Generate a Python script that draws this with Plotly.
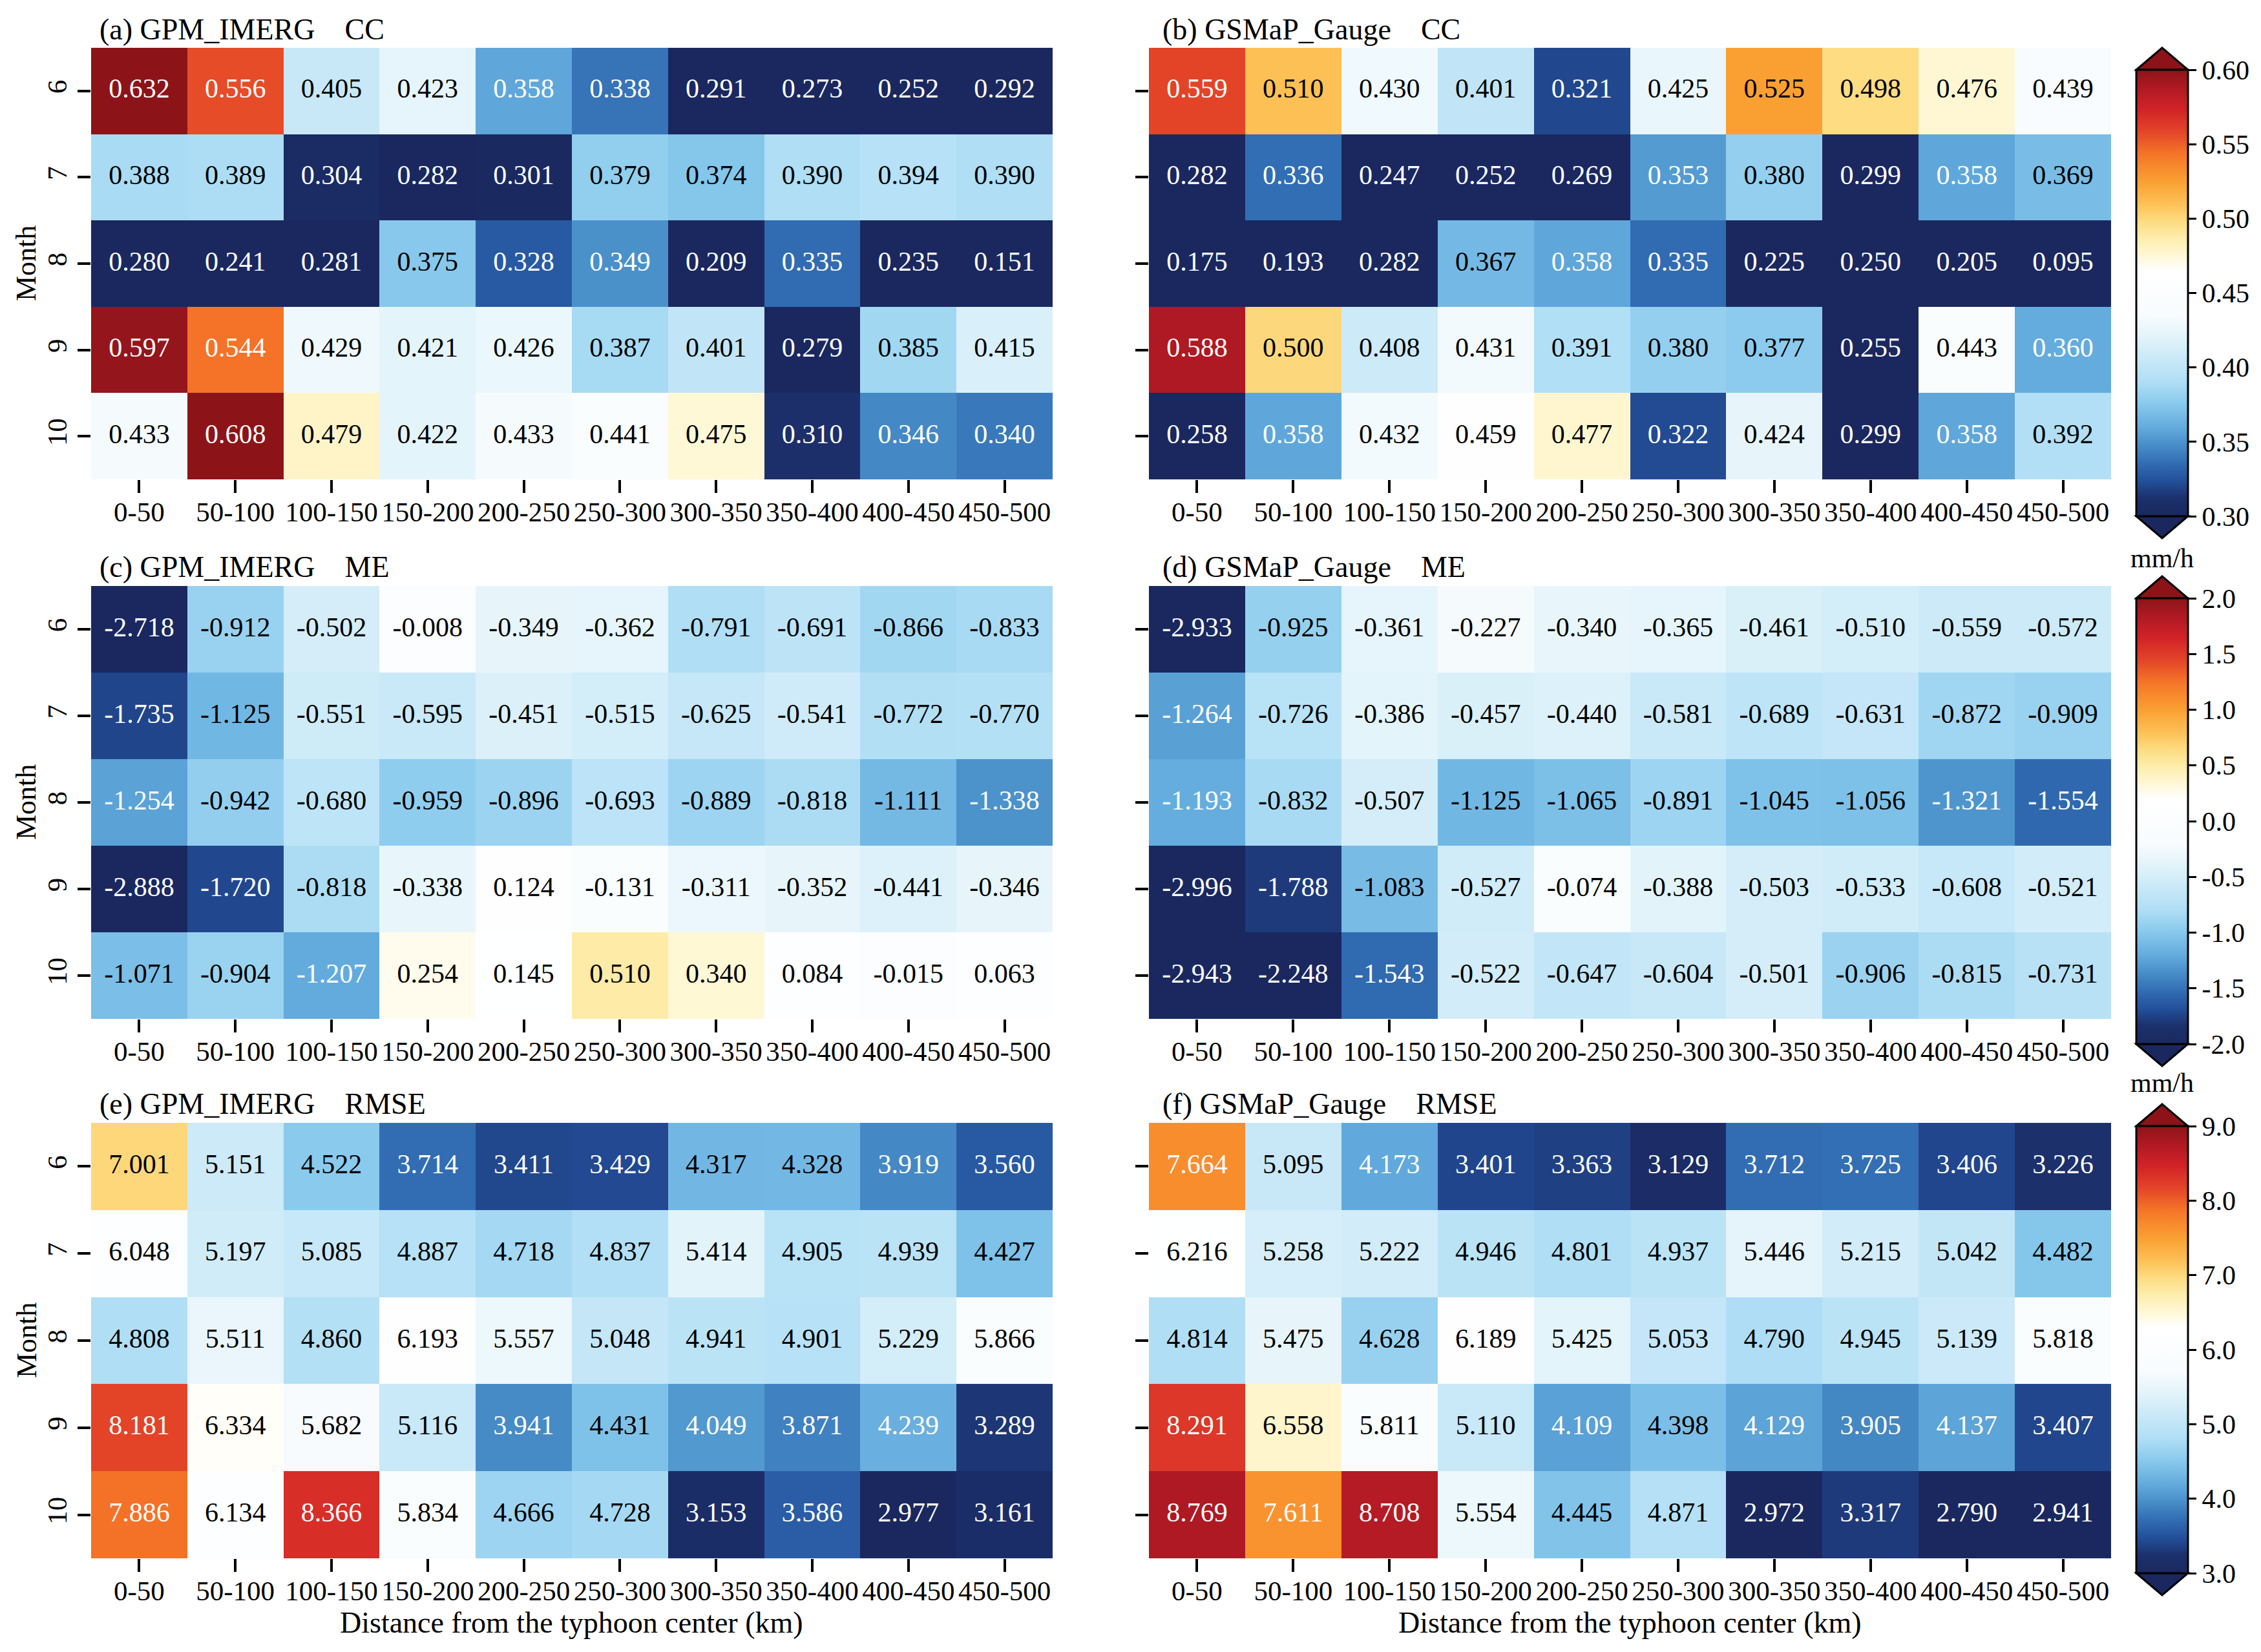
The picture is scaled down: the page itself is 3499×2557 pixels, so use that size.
import numpy as np
import plotly.graph_objects as go

W, H = 3499, 2557
OFF = 8  # default page body margin
FW, FH = W - 2 * OFF, H - 2 * OFF
FONT = "Times New Roman, Liberation Serif, serif"

dist_labels = ["0-50", "50-100", "100-150", "150-200", "200-250",
               "250-300", "300-350", "350-400", "400-450", "450-500"]
months = ["6", "7", "8", "9", "10"]

cc_imerg = [
    [0.632, 0.556, 0.405, 0.423, 0.358, 0.338, 0.291, 0.273, 0.252, 0.292],
    [0.388, 0.389, 0.304, 0.282, 0.301, 0.379, 0.374, 0.390, 0.394, 0.390],
    [0.280, 0.241, 0.281, 0.375, 0.328, 0.349, 0.209, 0.335, 0.235, 0.151],
    [0.597, 0.544, 0.429, 0.421, 0.426, 0.387, 0.401, 0.279, 0.385, 0.415],
    [0.433, 0.608, 0.479, 0.422, 0.433, 0.441, 0.475, 0.310, 0.346, 0.340],
]
cc_gsmap = [
    [0.559, 0.510, 0.430, 0.401, 0.321, 0.425, 0.525, 0.498, 0.476, 0.439],
    [0.282, 0.336, 0.247, 0.252, 0.269, 0.353, 0.380, 0.299, 0.358, 0.369],
    [0.175, 0.193, 0.282, 0.367, 0.358, 0.335, 0.225, 0.250, 0.205, 0.095],
    [0.588, 0.500, 0.408, 0.431, 0.391, 0.380, 0.377, 0.255, 0.443, 0.360],
    [0.258, 0.358, 0.432, 0.459, 0.477, 0.322, 0.424, 0.299, 0.358, 0.392],
]
me_imerg = [
    [-2.718, -0.912, -0.502, -0.008, -0.349, -0.362, -0.791, -0.691, -0.866, -0.833],
    [-1.735, -1.125, -0.551, -0.595, -0.451, -0.515, -0.625, -0.541, -0.772, -0.770],
    [-1.254, -0.942, -0.680, -0.959, -0.896, -0.693, -0.889, -0.818, -1.111, -1.338],
    [-2.888, -1.720, -0.818, -0.338, 0.124, -0.131, -0.311, -0.352, -0.441, -0.346],
    [-1.071, -0.904, -1.207, 0.254, 0.145, 0.510, 0.340, 0.084, -0.015, 0.063],
]
me_gsmap = [
    [-2.933, -0.925, -0.361, -0.227, -0.340, -0.365, -0.461, -0.510, -0.559, -0.572],
    [-1.264, -0.726, -0.386, -0.457, -0.440, -0.581, -0.689, -0.631, -0.872, -0.909],
    [-1.193, -0.832, -0.507, -1.125, -1.065, -0.891, -1.045, -1.056, -1.321, -1.554],
    [-2.996, -1.788, -1.083, -0.527, -0.074, -0.388, -0.503, -0.533, -0.608, -0.521],
    [-2.943, -2.248, -1.543, -0.522, -0.647, -0.604, -0.501, -0.906, -0.815, -0.731],
]
rmse_imerg = [
    [7.001, 5.151, 4.522, 3.714, 3.411, 3.429, 4.317, 4.328, 3.919, 3.560],
    [6.048, 5.197, 5.085, 4.887, 4.718, 4.837, 5.414, 4.905, 4.939, 4.427],
    [4.808, 5.511, 4.860, 6.193, 5.557, 5.048, 4.941, 4.901, 5.229, 5.866],
    [8.181, 6.334, 5.682, 5.116, 3.941, 4.431, 4.049, 3.871, 4.239, 3.289],
    [7.886, 6.134, 8.366, 5.834, 4.666, 4.728, 3.153, 3.586, 2.977, 3.161],
]
rmse_gsmap = [
    [7.664, 5.095, 4.173, 3.401, 3.363, 3.129, 3.712, 3.725, 3.406, 3.226],
    [6.216, 5.258, 5.222, 4.946, 4.801, 4.937, 5.446, 5.215, 5.042, 4.482],
    [4.814, 5.475, 4.628, 6.189, 5.425, 5.053, 4.790, 4.945, 5.139, 5.818],
    [8.291, 6.558, 5.811, 5.110, 4.109, 4.398, 4.129, 3.905, 4.137, 3.407],
    [8.769, 7.611, 8.708, 5.554, 4.445, 4.871, 2.972, 3.317, 2.790, 2.941],
]

SP = "\u00a0\u00a0\u00a0\u00a0"
titles = ["(a) GPM_IMERG" + SP + "CC", "(b) GSMaP_Gauge" + SP + "CC",
          "(c) GPM_IMERG" + SP + "ME", "(d) GSMaP_Gauge" + SP + "ME",
          "(e) GPM_IMERG" + SP + "RMSE", "(f) GSMaP_Gauge" + SP + "RMSE"]
cb_ticks_cc = [0.30, 0.35, 0.40, 0.45, 0.50, 0.55, 0.60]
cb_ticks_me = [-2.0, -1.5, -1.0, -0.5, 0.0, 0.5, 1.0, 1.5, 2.0]
cb_ticks_rmse = [3.0, 4.0, 5.0, 6.0, 7.0, 8.0, 9.0]

stops = [
    (0.00, (26, 40, 95)), (0.04, (28, 48, 108)), (0.08, (35, 80, 155)),
    (0.12, (50, 110, 180)), (0.16, (72, 142, 200)), (0.20, (100, 172, 222)),
    (0.25, (135, 200, 236)), (0.30, (175, 222, 245)), (0.35, (200, 232, 248)),
    (0.40, (225, 243, 250)), (0.45, (248, 252, 254)), (0.55, (255, 255, 255)),
    (0.58, (255, 249, 218)), (0.62, (254, 238, 175)), (0.66, (253, 220, 130)),
    (0.70, (253, 192, 85)), (0.75, (250, 160, 50)), (0.81, (245, 118, 40)),
    (0.86, (228, 70, 40)), (0.91, (210, 35, 40)), (0.96, (175, 25, 35)),
    (1.00, (140, 20, 25)),
]
cscale = [[p, "rgb(%d,%d,%d)" % c] for p, c in stops]
low_col = "rgb(%d,%d,%d)" % stops[0][1]
high_col = "rgb(%d,%d,%d)" % stops[-1][1]


def pxx(x):
    return (x - OFF) / FW


def pyy(y):
    return 1 - (y - OFF) / FH


x_doms = [(141, 1629), (1778, 3267)]
y_doms = [(74, 742), (907, 1577), (1738, 2412)]
title_y = [45, 877, 1708]
title_x = [152, 1797]

rows = [
    (cc_imerg, cc_gsmap, 0.30, 0.60, cb_ticks_cc, "%.2f", (108, 799)),
    (me_imerg, me_gsmap, -2.0, 2.0, cb_ticks_me, "%.1f", (926, 1616)),
    (rmse_imerg, rmse_gsmap, 3.0, 9.0, cb_ticks_rmse, "%.1f", (1743, 2435)),
]

fig = go.Figure()
layout = dict(width=FW, height=FH, margin=dict(l=0, r=0, t=0, b=0),
              paper_bgcolor="white", plot_bgcolor="white",
              font=dict(family=FONT, size=42, color="black"),
              showlegend=False)
annotations = []
shapes = []

ax = 0
for r, (d_left, d_right, zmin, zmax, cbt, fmt, (cb_top, cb_bot)) in enumerate(rows):
    for c, data in enumerate([d_left, d_right]):
        ax += 1
        xa = "x" if ax == 1 else "x%d" % ax
        ya = "y" if ax == 1 else "y%d" % ax
        z = np.array(data)
        hm = dict(z=z, x=dist_labels, y=months, xaxis=xa, yaxis=ya,
                  zmin=zmin, zmax=zmax, colorscale=cscale, hoverinfo="skip",
                  showscale=(c == 1))
        if c == 1:
            hm["colorbar"] = dict(
                x=pxx(3306), xanchor="left", y=pyy(cb_top), yanchor="top",
                len=cb_bot - cb_top, lenmode="pixels",
                thickness=80, thicknessmode="pixels", xpad=0, ypad=0,
                outlinewidth=3, outlinecolor="black",
                ticks="outside", ticklen=12, tickwidth=3, tickcolor="black",
                tickvals=cbt, ticktext=[fmt % v for v in cbt],
                tickfont=dict(family=FONT, size=42, color="black"))
        fig.add_trace(go.Heatmap(**hm))

        xx, yy = np.meshgrid(dist_labels, months)
        frac = (z - zmin) / (zmax - zmin)
        colors = np.where((frac < 0.21) | (frac > 0.76), "white", "black")
        fig.add_trace(go.Scatter(
            x=xx.ravel(), y=yy.ravel(), xaxis=xa, yaxis=ya, mode="text",
            text=["%.3f" % v for v in z.ravel()],
            textfont=dict(family=FONT, size=42, color=list(colors.ravel())),
            hoverinfo="skip"))

        xk = "xaxis" if ax == 1 else "xaxis%d" % ax
        yk = "yaxis" if ax == 1 else "yaxis%d" % ax
        xd = x_doms[c]
        yd = y_doms[r]
        layout[xk] = dict(
            domain=[pxx(xd[0]), pxx(xd[1])], anchor=ya, type="category",
            ticks="outside", ticklen=20, tickwidth=4, tickcolor="black",
            ticklabelstandoff=-8,
            showgrid=False, zeroline=False, showline=False,
            tickfont=dict(family=FONT, size=43), fixedrange=True)
        layout[yk] = dict(
            domain=[pyy(yd[1]), pyy(yd[0])], anchor=xa, type="category",
            autorange="reversed",
            ticks="outside", ticklen=20, tickwidth=4, tickcolor="black",
            showgrid=False, zeroline=False, showline=False,
            tickangle=-90, showticklabels=(c == 0),
            tickfont=dict(family=FONT, size=43), fixedrange=True)
        if c == 0:
            annotations.append(dict(
                text="Month", x=pxx(41), y=pyy((yd[0] + yd[1]) / 2),
                xref="paper", yref="paper", xanchor="center", yanchor="middle",
                textangle=-90, showarrow=False, font=dict(family=FONT, size=44)))
        if r == 2:
            annotations.append(dict(
                text="Distance from the typhoon center (km)",
                x=pxx((xd[0] + xd[1]) / 2), y=pyy(2511),
                xref="paper", yref="paper", xanchor="center", yanchor="middle",
                showarrow=False, font=dict(family=FONT, size=46)))
        annotations.append(dict(
            text=titles[ax - 1], x=pxx(title_x[c]), y=pyy(title_y[r]),
            xref="paper", yref="paper", xanchor="left", yanchor="middle",
            showarrow=False, font=dict(family=FONT, size=46)))

    # extend triangles on colorbar
    xl, xr = pxx(3306), pxx(3386)
    xm = (xl + xr) / 2
    tip = 34
    shapes.append(dict(
        type="path", xref="paper", yref="paper",
        path="M %f,%f L %f,%f L %f,%f Z" % (xl, pyy(cb_top), xm, pyy(cb_top - tip), xr, pyy(cb_top)),
        fillcolor=high_col, line=dict(color="black", width=3)))
    shapes.append(dict(
        type="path", xref="paper", yref="paper",
        path="M %f,%f L %f,%f L %f,%f Z" % (xl, pyy(cb_bot), xm, pyy(cb_bot + tip), xr, pyy(cb_bot)),
        fillcolor=low_col, line=dict(color="black", width=3)))

for yv in [864, 1676]:
    annotations.append(dict(
        text="mm/h", x=pxx(3346), y=pyy(yv), xref="paper", yref="paper",
        xanchor="center", yanchor="middle", showarrow=False,
        font=dict(family=FONT, size=42)))

layout["annotations"] = annotations
layout["shapes"] = shapes
fig.update_layout(**layout)
fig.write_html("out.html")
